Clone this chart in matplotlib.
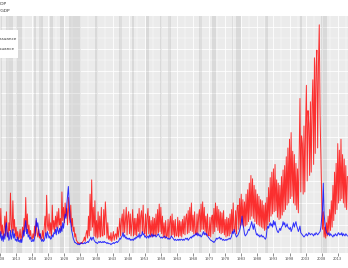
import numpy as np
import matplotlib
matplotlib.use("Agg")
import matplotlib.pyplot as plt
from matplotlib.patches import Rectangle

start_year = 1908.0
debt = [
 1.0,3.5,1.2,2.0,  0.8,1.5,2.8,1.0,  3.2,1.2,0.9,2.2,  1.5,4.9,2.0,1.3,  4.2,1.5,2.5,1.0,   # 1908-1912
 1.8,0.8,1.4,0.7,  0.9,1.6,0.6,1.0,  1.8,0.9,2.6,1.4,  4.5,1.6,3.0,1.2,  2.0,1.0,1.5,0.8,   # 1913-1917
 0.7,1.2,0.8,1.9,  1.0,2.4,1.3,0.9,  1.6,0.8,1.2,0.7,  0.9,1.5,0.7,1.8,  2.8,1.2,4.7,2.0,   # 1918-1922
 1.5,3.0,1.2,2.2,  1.0,3.8,1.6,2.4,  1.4,2.8,1.8,3.2,  1.7,3.5,2.0,2.6,  1.5,5.0,2.4,3.6,   # 1923-1927
 2.2,4.0,2.8,3.5,  2.0,4.5,3.0,2.2,  3.8,1.8,2.6,1.4,  1.8,0.9,1.2,0.6,  0.5,0.3,0.4,0.3,   # 1928-1932
 0.3,0.4,0.3,0.5,  0.6,0.9,0.5,1.2,  1.5,0.8,2.8,1.0,  4.8,1.5,6.1,1.8,  3.6,1.0,4.2,0.9,   # 1933-1937
 2.4,0.8,3.2,0.9,  2.8,0.9,3.6,1.0,  1.0,3.4,1.1,4.1,  2.6,0.8,2.2,0.7,  1.0,0.6,1.3,0.5,   # 1938-1942
 0.9,1.4,0.6,1.1,  1.2,0.7,1.8,0.9,  1.6,2.6,1.0,2.4,  3.0,1.2,3.4,1.3,  2.4,3.6,1.1,2.8,   # 1943-1947
 3.2,1.2,3.0,1.0,  2.2,3.4,1.0,2.6,  1.1,2.6,1.0,3.0,  1.4,3.5,1.2,2.8,  3.3,1.3,3.8,1.4,   # 1948-1952
 1.2,3.0,1.0,2.7,  3.5,1.2,2.8,1.0,  2.4,0.9,2.7,1.0,  2.6,1.0,3.0,1.1,  3.4,1.3,3.9,1.4,   # 1953-1957
 3.6,1.2,2.8,0.9,  2.2,0.8,2.4,0.9,  1.0,2.5,0.8,2.2,  2.8,1.0,3.0,1.1,  2.4,0.9,2.5,1.0,   # 1958-1962
 1.0,2.7,0.9,2.4,  1.0,2.3,0.9,2.5,  1.2,2.8,1.1,2.6,  3.0,1.2,3.3,1.3,  3.6,1.5,4.0,1.4,   # 1963-1967
 2.9,1.2,3.2,1.3,  1.1,3.0,1.2,2.8,  3.4,1.4,3.9,1.6,  4.1,1.6,3.6,1.4,  2.8,1.0,3.0,1.1,   # 1968-1972
 1.0,2.7,0.9,2.6,  2.9,1.2,3.5,1.4,  4.0,1.8,3.7,1.5,  3.4,1.3,3.2,1.2,  3.1,1.3,3.3,1.1,   # 1973-1977
 2.5,0.9,2.7,1.0,  2.6,1.0,3.0,1.2,  3.4,1.3,4.0,1.6,  1.4,3.3,1.2,3.6,  3.8,1.6,4.4,1.9,   # 1978-1982
 4.8,2.0,4.3,1.8,  4.1,1.9,4.8,2.0,  5.2,2.3,5.8,2.5,  6.5,2.8,6.2,2.6,  5.6,2.3,5.2,2.1,   # 1983-1987
 4.8,2.0,4.6,1.9,  4.3,1.8,4.2,1.7,  3.8,1.5,4.0,1.6,  4.5,2.0,5.4,2.3,  6.3,2.8,6.8,3.0,   # 1988-1992
 7.1,3.2,7.5,3.3,  6.1,2.7,5.8,2.5,  5.6,2.6,6.4,2.9,  7.0,3.2,7.4,3.4,  8.2,3.8,9.0,4.0,   # 1993-1997
 9.8,4.4,10.4,4.6, 8.7,4.0,8.4,3.8,  7.6,3.4,7.1,3.1,  8.6,13.5,5.0,10.1, 9.4,4.8,11.0,5.0, # 1998-2002
 11.0,14.7,6.0,12.4, 11.2,6.5,13.2,6.8, 12.8,15.2,7.5,17.2, 8.5,16.4,17.9,9.0, 16.5,20.2,12.0,8.0, # 2003-2007
 4.5,1.6,3.2,0.9,  1.8,0.8,2.2,1.0,  2.8,1.2,3.4,1.5,  4.2,1.8,5.6,2.4,  6.8,3.0,7.6,3.4,   # 2008-2012
 9.4,4.0,8.8,4.2,  9.8,4.4,8.4,4.0,  8.0,3.6,7.4,3.4,  6.4,                                 # 2013-2016
]
equity = [
 0.8,1.4,0.6,1.0, 0.5,1.2,0.7,1.8, 2.2,0.9,1.3,0.6, 0.8,1.5,0.7,1.0, 1.6,0.8,1.2,0.6,
 0.7,0.5,0.9,0.5, 0.6,0.4,0.7,0.4, 0.9,1.5,1.0,1.8, 2.4,1.2,1.6,0.9, 1.1,0.7,0.9,0.5,
 0.5,0.7,0.5,0.8, 1.4,2.6,1.8,2.2, 1.6,1.0,1.2,0.7, 0.5,0.7,0.5,0.6, 0.9,1.3,0.8,1.4,
 1.1,0.8,1.0,0.7, 0.8,1.1,0.9,1.3, 1.2,1.6,1.1,1.8, 1.5,1.2,1.7,1.3, 1.9,1.4,2.2,1.7,
 2.4,3.0,2.6,3.8, 4.6,5.5,4.0,2.6, 2.2,1.5,1.2,0.8, 0.6,0.4,0.4,0.3, 0.3,0.2,0.3,0.2,
 0.3,0.4,0.3,0.3, 0.3,0.4,0.3,0.4, 0.4,0.5,0.4,0.6, 0.7,0.9,0.6,0.8, 0.9,0.6,0.5,0.4,
 0.4,0.3,0.4,0.5, 0.4,0.5,0.4,0.4, 0.5,0.4,0.5,0.4, 0.4,0.3,0.4,0.3, 0.3,0.3,0.2,0.3,
 0.3,0.4,0.3,0.4, 0.4,0.5,0.4,0.5, 0.6,0.8,0.7,0.9, 1.0,1.3,0.9,1.1, 0.8,0.9,0.7,0.8,
 0.7,0.8,0.6,0.7, 0.6,0.7,0.6,0.8, 0.7,0.9,0.8,1.0, 0.9,1.2,0.8,1.1, 1.0,1.4,1.1,1.2,
 0.9,1.0,0.8,0.9, 1.0,0.8,1.1,0.9, 1.0,1.2,0.9,1.1, 1.0,1.1,0.9,1.0, 1.1,1.2,1.0,0.9,
 0.8,0.9,0.8,0.9, 0.9,1.0,0.8,0.9, 0.8,0.7,0.8,0.7, 0.8,1.0,0.9,0.8, 0.7,0.6,0.7,0.6,
 0.6,0.7,0.6,0.7, 0.6,0.7,0.7,0.6, 0.7,0.6,0.7,0.8, 0.7,0.8,0.6,0.7, 0.8,0.9,0.8,1.0,
 0.9,1.1,1.0,1.2, 1.1,1.3,1.0,1.2, 1.0,1.1,0.9,1.0, 1.2,1.4,1.1,1.3, 1.1,1.2,1.0,0.9,
 0.8,0.7,0.6,0.6, 0.5,0.5,0.4,0.5, 0.6,0.8,0.7,0.8, 0.8,0.9,0.7,0.8, 0.7,0.6,0.7,0.6,
 0.6,0.7,0.6,0.7, 0.7,0.8,0.7,0.8, 1.0,1.4,1.2,1.6, 1.3,1.1,0.9,1.0, 1.1,1.3,1.5,1.8,
 2.2,2.8,2.0,1.7, 1.2,1.0,1.1,1.2, 1.4,1.6,1.5,1.8, 2.0,2.3,1.9,1.6, 2.1,1.7,1.4,1.1,
 1.2,1.0,1.1,0.9, 1.0,1.1,0.9,1.0, 0.9,0.8,0.7,0.9, 1.6,1.9,1.7,2.0, 2.2,1.9,2.1,1.8,
 2.4,2.0,2.3,1.9, 1.6,1.4,1.3,1.5, 1.7,1.5,1.8,1.9, 2.3,2.0,2.2,1.8, 1.9,2.1,1.8,1.7,
 1.6,1.8,1.4,1.6, 1.9,2.2,1.8,2.1, 2.3,1.9,1.7,1.4, 1.6,1.9,1.3,1.2, 1.1,1.0,0.9,1.0,
 1.1,1.2,1.0,1.1, 1.3,1.2,1.1,1.2, 1.2,1.1,1.0,1.2, 1.1,1.3,1.2,1.1, 1.2,1.3,1.4,1.8,
 2.6,3.4,5.8,3.0, 2.2,1.6,1.3,1.2, 1.1,1.3,1.0,1.2, 1.1,1.0,0.9,1.1, 1.0,1.2,1.1,1.0,
 1.2,1.3,1.1,1.2, 1.1,1.3,1.0,1.2, 1.1,1.0,1.2,1.1, 1.0,
]
recessions = [
 (1907.4,1908.5),(1910.0,1912.0),(1913.0,1914.9),(1918.6,1919.2),(1920.0,1921.5),
 (1923.4,1924.5),(1926.8,1927.9),(1929.6,1933.2),(1937.4,1938.5),(1945.1,1945.8),
 (1948.9,1949.8),(1953.5,1954.4),(1957.6,1958.3),(1960.3,1961.1),(1969.9,1970.9),
 (1973.9,1975.2),(1980.0,1980.5),(1981.5,1982.9),(1990.5,1991.2),(2001.2,2001.9),
 (2007.9,2009.5),
]
tick_years = list(range(1908, 2014, 5))

t_debt = start_year + 0.25 * np.arange(len(debt))
t_eq = start_year + 0.25 * np.arange(len(equity))

W, H = 348, 268
fig = plt.figure(figsize=(W / 100, H / 100), dpi=100)
fig.patch.set_facecolor("white")
ax = fig.add_axes([0, 1 - 253 / H, 1, (253 - 16) / H])
ax.set_facecolor("#EBEBEB")
for s in ax.spines.values():
    s.set_visible(False)

x0 = 1908 + 1 / 3.226
x1 = 1908 + 349 / 3.226
ax.set_xlim(x0, x1)
ax.set_ylim(-0.55, 21.0)

ax.set_xticks(tick_years)
ax.set_xticklabels([str(y) for y in tick_years], fontsize=2.6, color="#4D4D4D")
ax.set_xticks([y + 2.5 for y in tick_years], minor=True)
ax.set_yticks(np.arange(0, 21, 2))
ax.set_yticks(np.arange(1, 21, 2), minor=True)
ax.tick_params(axis="x", which="major", length=2, width=0.4, color="#333333", pad=1)
ax.tick_params(axis="x", which="minor", length=0)
ax.tick_params(axis="y", which="both", length=0, labelleft=False)
ax.grid(which="major", color="white", linewidth=0.6)
ax.grid(which="minor", color="white", linewidth=0.3)
ax.set_axisbelow(True)

for a, b in recessions:
    ax.axvspan(a, b, color="#7F7F7F", alpha=0.16, lw=0, zorder=1)

ax.plot(t_debt, debt, color="red", lw=0.7, alpha=0.8, zorder=3)
ax.plot(t_eq, equity, color="blue", lw=0.7, alpha=0.8, zorder=4)

# title lines and legend are cut at the left edge, as in the reference
fig.text(6 / W, 1 - 4 / H, "Equity Issuance/GDP", ha="right", va="center", fontsize=3.2, color="#333333")
fig.text(10 / W, 1 - 11 / H, "Debt Issuance/GDP", ha="right", va="center", fontsize=3.2, color="#333333")
fig.add_artist(Rectangle((0, 1 - 58 / H), 18 / W, 28 / H, transform=fig.transFigure,
                         facecolor="white", edgecolor="none", zorder=5))
fig.text(16 / W, 1 - 39 / H, "Equity Issuance", ha="right", va="center", fontsize=3, color="#333333", zorder=6)
fig.text(14 / W, 1 - 49 / H, "Debt Issuance", ha="right", va="center", fontsize=3, color="#333333", zorder=6)

fig.savefig("out.png", dpi=100)
